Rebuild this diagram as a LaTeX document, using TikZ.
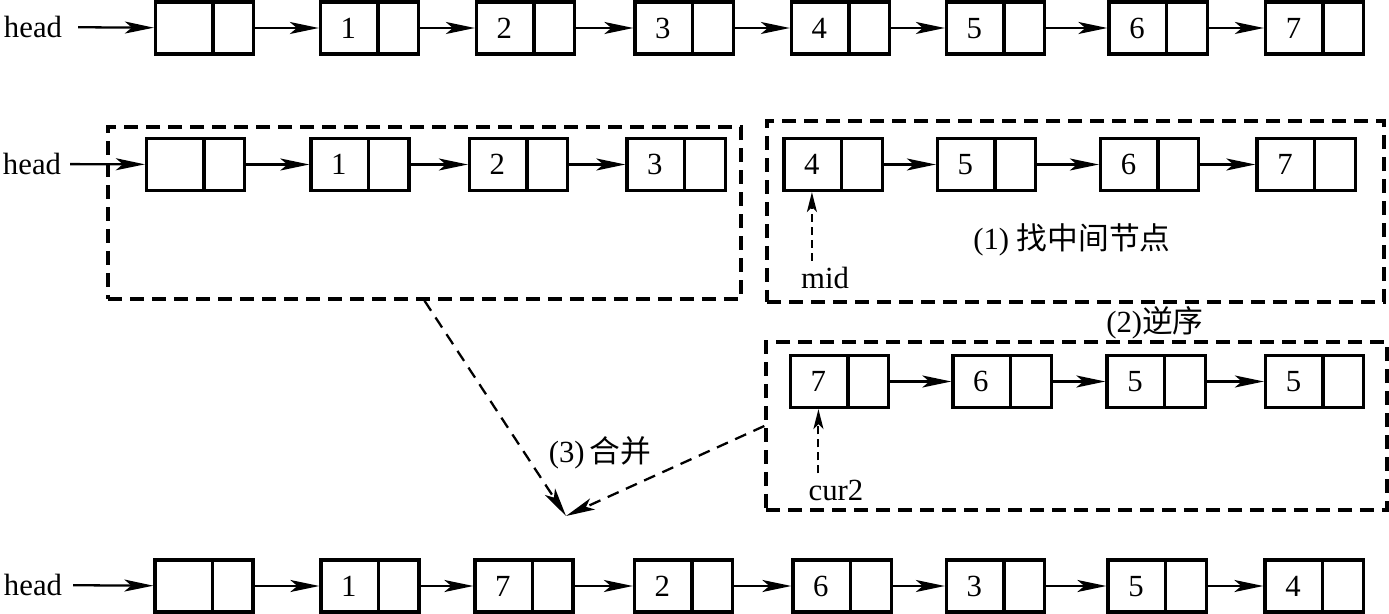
\documentclass[tikz,border=0pt]{standalone}
\usepackage{fontspec}
\setmainfont{Liberation Serif}
\newfontfamily\cjk{Noto Sans CJK SC}
\usetikzlibrary{arrows.meta,shapes.multipart}
\newcommand{\cellval}[1]{\rule[-0.31cm]{0pt}{1.04cm}\makebox[1.12cm]{#1}\nodepart{two}\rule[-0.31cm]{0pt}{1.04cm}\makebox[0.78cm]{}}

\begin{document}
\begin{tikzpicture}[x=0.02cm,y=-0.02cm,
        >={Stealth[length=0.58cm,width=0.24cm,inset=0.14cm]},
        every node/.style={font=\fontsize{17.5}{20}\selectfont},
        list node/.style={draw,line width=1.8pt,rectangle split,rectangle split horizontal,rectangle split parts=2,inner sep=0pt},
        link/.style={->,line width=1.3pt},
        frame/.style={draw,line width=2pt,dash pattern=on 0.28cm off 0.16cm,inner sep=0pt},
        merge/.style={->,line width=1.3pt,dash pattern=on 0.24cm off 0.16cm},
        pointer/.style={-{Stealth[length=0.4cm,width=0.2cm,inset=0.1cm]},line width=1.2pt,dash pattern=on 0.16cm off 0.1cm}]
        \useasboundingbox (0,0) rectangle (1389,614);
        % original list
        \node (h1) at (33,27) {head};
        \foreach \x/\v [count=\i from 0] in {204.5/,369.5/1,525.5/2,684/3,840.5/4,995.5/5,1158/6,1314.5/7}
          \node[list node] (a\i) at (\x,28) {\cellval{\v}};
        \draw[link,shorten <=0.2cm] (h1) -- (a0);
        \foreach \i in {0,...,6} {\pgfmathtruncatemacro\j{\i+1} \draw[link] (a\i) -- (a\j);}
        % first half and second half
        \node[frame,minimum width=12.66cm,minimum height=3.44cm] (frameA) at (424.5,213) {};
        \node[frame,minimum width=12.34cm,minimum height=3.62cm] (frameB) at (1075.5,211.5) {};
        \node (h2) at (32,164) {head};
        \foreach \x/\v [count=\i from 0] in {195.5/,360/1,518.5/2,676/3}
          \node[list node] (b\i) at (\x,164.5) {\cellval{\v}};
        \foreach \x/\v [count=\i from 0] in {833/4,986.5/5,1149.5/6,1306/7}
          \node[list node] (c\i) at (\x,164.5) {\cellval{\v}};
        \draw[link,shorten <=0.06cm] (h2) -- (b0);
        \foreach \i in {0,1,2} {\pgfmathtruncatemacro\j{\i+1} \draw[link] (b\i) -- (b\j); \draw[link] (c\i) -- (c\j);}
        \node (mid) at (825,278) {mid};
        \draw[pointer] (mid.north -| c0.one south) -- (c0.one south);
        \node (step1) at (1072,240) {(1) {\cjk 找中间节点}};
        % reversed half
        \node (step2) at (1155,323) {(2){\cjk 逆序}};
        \node[frame,minimum width=12.42cm,minimum height=3.36cm] (frameC) at (1076.5,426) {};
        \foreach \x/\v [count=\i from 0] in {839.5/7,1002/6,1156/5,1314.5/5}
          \node[list node] (d\i) at (\x,381.5) {\cellval{\v}};
        \foreach \i in {0,1,2} {\pgfmathtruncatemacro\j{\i+1} \draw[link] (d\i) -- (d\j);}
        \node (cur2) at (836,490) {cur2};
        \draw[pointer] (cur2.north -| d0.one south) -- (d0.one south);
        % merge
        \coordinate (join) at (566,516);
        \draw[merge] (frameA.south) -- (join);
        \draw[merge] (frameC.west) -- (join);
        \node (step3) at (600,453) {(3)\,{\cjk 合并}};
        % merged list
        \node (h3) at (33,585) {head};
        \foreach \x/\v [count=\i from 0] in {204/,370/1,524/7,683.5/2,842/6,995.5/3,1157/5,1314/4}
          \node[list node] (e\i) at (\x,586) {\cellval{\v}};
        \draw[link,shorten <=0.1cm] (h3) -- (e0);
        \foreach \i in {0,...,6} {\pgfmathtruncatemacro\j{\i+1} \draw[link] (e\i) -- (e\j);}
\end{tikzpicture}
\end{document}
